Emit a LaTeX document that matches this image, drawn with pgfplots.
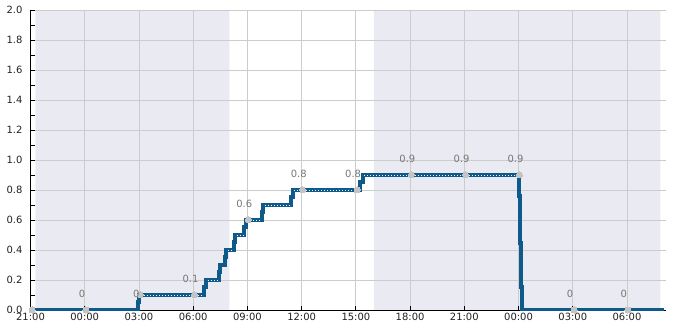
\documentclass[border=0pt]{standalone}
\usepackage{fontspec}
\setmainfont{DejaVu Sans}
\usepackage{pgfplots}
\pgfplotsset{compat=1.18}
\usetikzlibrary{calc}
\definecolor{shade}{HTML}{EAEAF2}
\definecolor{gridcol}{HTML}{CCCCCC}
\definecolor{lineblue}{RGB}{14,90,138}
\definecolor{markgray}{HTML}{C4C4C4}
\definecolor{labgray}{HTML}{777777}
\definecolor{tickcol}{HTML}{222222}
\begin{document}
\begin{tikzpicture}
\begin{axis}[
  set layers,
  scale only axis,
  width=635bp, height=300bp,
  xmin=-3.0, xmax=32.13,
  ymin=0, ymax=2.0,
  axis x line*=bottom, axis y line*=left,
  axis line style={-, black, line width=0.8bp},
  tick align=inside,
  major tick length=4bp, minor tick length=4bp,
  tick style={black, line width=0.8bp},
  xtick={-3,0,3,6,9,12,15,18,21,24,27,30},
  xticklabels={21:00,00:00,03:00,06:00,09:00,12:00,15:00,18:00,21:00,00:00,03:00,06:00},
  ytick={0,0.2,...,2.01},
  minor ytick={0.1,0.3,...,1.91},
  grid=major,
  major grid style={draw=gridcol, line width=0.8bp},
  tick label style={font=\fontsize{10}{12}\selectfont, text=tickcol},
  yticklabel style={/pgf/number format/.cd, fixed, fixed zerofill, precision=1, assume math mode=true, /tikz/.cd, xshift=-4.5bp, yshift=0.5bp},
  xticklabel style={yshift=0.3bp},
  unbounded coords=jump,
]
\coordinate (ll) at (rel axis cs:0,0);
\coordinate (ur) at (rel axis cs:1,1);
% night shading
\addplot[on layer=axis background, fill=shade, draw=none] coordinates {(-2.73,0) (-2.73,2) (8,2) (8,0)} \closedcycle;
\addplot[on layer=axis background, fill=shade, draw=none] coordinates {(16,0) (16,2) (31.85,2) (31.85,0)} \closedcycle;
% step line
\addplot[const plot, draw=lineblue, line width=4bp] coordinates {
(-3.0,0) (2.95,0.05) (3.03,0.1) (6.62,0.15) (6.72,0.2) (7.42,0.25) (7.5,0.3)
(7.75,0.35) (7.82,0.4) (8.25,0.45) (8.33,0.5) (8.82,0.55) (8.92,0.6) (9.8,0.65)
(9.88,0.7) (11.42,0.75) (11.52,0.8) (15.25,0.85) (15.38,0.9) (24.0,0.76)
(24.08,0.445) (24.13,0.155) (24.18,0) (32.05,0)
};
% white dotted core on plateaus
\addplot[draw=white, line width=0.9bp, dash pattern=on 1bp off 2bp] coordinates {
(3.12,0.1) (6.55,0.1) (6.55,nan)
(6.8,0.2) (7.36,0.2) (7.36,nan)
(7.9,0.4) (8.2,0.4) (8.2,nan)
(8.4,0.5) (8.76,0.5) (8.76,nan)
(9.0,0.6) (9.74,0.6) (9.74,nan)
(9.96,0.7) (11.36,0.7) (11.36,nan)
(11.6,0.8) (15.2,0.8) (15.2,nan)
(15.46,0.9) (23.94,0.9)
};
% markers
\addplot[color=markgray, only marks, mark=*, mark size=3.0bp, mark options={solid, fill=markgray, draw=markgray, line width=0pt}] coordinates {
(-2.91,0) (0.07,0) (3.07,0.1) (6.07,0.1) (9.05,0.6) (12.06,0.8) (15.07,0.8)
(18.07,0.9) (21.07,0.9) (24.05,0.9) (27.07,0) (30.05,0)
};
% value labels
\addplot[draw=none, mark=none,
  nodes near coords, point meta=explicit symbolic,
  every node near coord/.append style={font=\fontsize{10}{12}\selectfont, text=labgray, anchor=south, inner sep=0pt, xshift=-4bp, yshift=12.4bp}]
  table[meta=lab] {
x y lab
0.07 0 0
3.07 0 0
6.07 0.1 0.1
9.05 0.6 0.6
12.06 0.8 0.8
15.07 0.8 0.8
18.07 0.9 0.9
21.07 0.9 0.9
24.05 0.9 0.9
27.07 0 0
30.05 0 0
};
\end{axis}
\pgfresetboundingbox
\path[use as bounding box] ($(ll)+(-30.5bp,-20bp)$) rectangle ($(ur)+(19.5bp,10bp)$);
\end{tikzpicture}
\end{document}
